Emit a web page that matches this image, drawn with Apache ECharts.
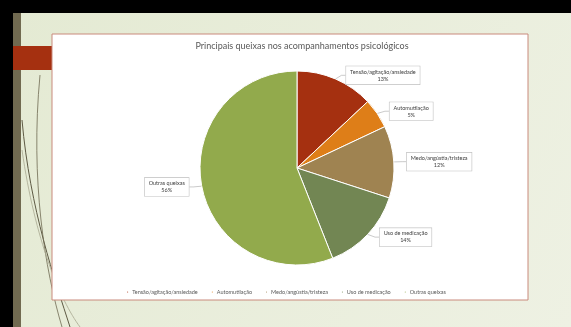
<!DOCTYPE html>
<html>
<head>
<meta charset="utf-8">
<script src="https://cdn.jsdelivr.net/npm/echarts@6/dist/echarts.min.js"></script>
<style>
  html, body { margin: 0; padding: 0; background: #000; }
  #main { width: 571px; height: 327px; }
</style>
</head>
<body>
<div id="main"></div>
<script>
// dados
var categorias = ['Tensão/agitação/ansiedade', 'Automutilação', 'Medo/angústia/tristeza', 'Uso de medicação', 'Outras queixas'];
var valores = [13, 5, 12, 14, 56];
var cores = ['#A53010', '#DE7E18', '#9F8351', '#728653', '#92AA4C'];

var chart = echarts.init(document.getElementById('main'));

var dados = [];
categorias.forEach(function (nome, i) {
  dados.push({ name: nome, value: valores[i] });
});

// fundo do slide (tema Wisp)
var fundo = [
  { type: 'rect', z: -20, silent: true, shape: { x: 0, y: 0, width: 571, height: 327 }, style: { fill: '#000' } },
  {
    type: 'rect', z: -19, silent: true,
    shape: { x: 13, y: 13, width: 558, height: 314 },
    style: {
      fill: new echarts.graphic.LinearGradient(0, 0, 1, 1, [
        { offset: 0, color: '#E4EAD3' },
        { offset: 1, color: '#EEF1E3' }
      ])
    }
  },
  { type: 'rect', z: -18, silent: true, shape: { x: 13, y: 13, width: 8, height: 314 }, style: { fill: '#716A50' } },
  { type: 'rect', z: -18, silent: true, shape: { x: 13, y: 46, width: 40, height: 24 }, style: { fill: '#A53010' } },
  { type: 'bezierCurve', z: -17, silent: true,
    shape: { x1: 22, y1: 120, cpx1: 30, cpy1: 210, cpx2: 55, cpy2: 280, x2: 70, y2: 327 },
    style: { stroke: '#5E5A44', lineWidth: 1, fill: null } },
  { type: 'bezierCurve', z: -17, silent: true,
    shape: { x1: 40, y1: 75, cpx1: 30, cpy1: 180, cpx2: 45, cpy2: 270, x2: 62, y2: 327 },
    style: { stroke: '#6F6A52', lineWidth: 0.8, fill: null } },
  { type: 'bezierCurve', z: -17, silent: true,
    shape: { x1: 22, y1: 150, cpx1: 35, cpy1: 240, cpx2: 60, cpy2: 300, x2: 80, y2: 327 },
    style: { stroke: '#A8A890', lineWidth: 0.8, fill: null } },
  { type: 'rect', z: -16, silent: true,
    shape: { x: 52, y: 34, width: 476, height: 266 },
    style: { fill: '#ffffff', stroke: '#C98A7C', lineWidth: 1 } }
];

var option = {
  color: cores,
  graphic: fundo,
  title: {
    text: 'Principais queixas nos acompanhamentos psicológicos',
    left: 297,
    textAlign: 'center',
    top: 37,
    textStyle: { fontFamily: 'Lato', fontSize: 9, fontWeight: 'normal', color: '#595959' }
  },
  legend: {
    data: categorias,
    bottom: 27,
    left: 'center',
    icon: 'circle',
    itemWidth: 3,
    itemHeight: 3,
    itemGap: 12,
    textStyle: { fontFamily: 'Lato', fontSize: 5.5, color: '#595959', padding: [0, 0, 0, -2] }
  },
  series: [{
    type: 'pie',
    center: [297, 168],
    radius: 97,
    startAngle: 90,
    animation: false,
    itemStyle: { borderColor: '#ffffff', borderWidth: 1 },
    label: {
      formatter: '{b}\n{d}%',
      fontFamily: 'Lato',
      fontSize: 5.5,
      lineHeight: 7,
      color: '#404040',
      backgroundColor: '#ffffff',
      borderColor: '#BFBFBF',
      borderWidth: 0.6,
      padding: [2, 4]
    },
    labelLine: {
      length: 4,
      length2: 4,
      lineStyle: { color: '#A6A6A6', width: 0.6 }
    },
    // centraliza o texto dentro da caixa do rótulo
    labelLayout: function (p) {
      return { x: p.labelRect.x + p.labelRect.width / 2, align: 'center' };
    },
    data: dados
  }]
};

chart.setOption(option);
</script>
</body>
</html>
